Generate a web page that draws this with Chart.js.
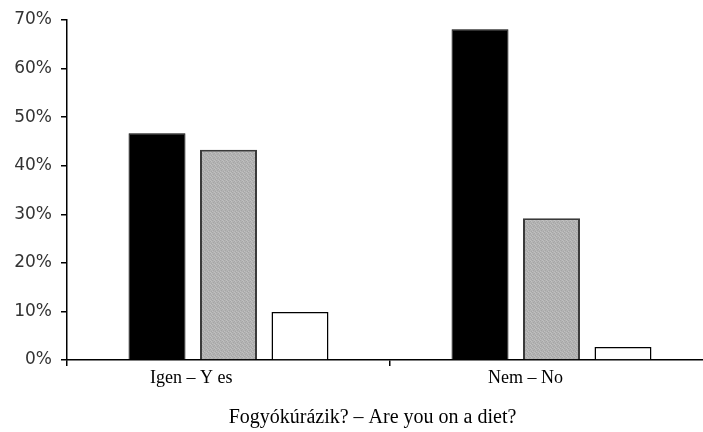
<!DOCTYPE html>
<html>
<head>
<meta charset="utf-8">
<script src="https://cdn.jsdelivr.net/npm/chart.js@4"></script>
<style>
  html, body { margin: 0; padding: 0; background: #fff; overflow: hidden; }
  #wrap { width: 716px; height: 432px; }
</style>
</head>
<body>
<div id="wrap"><canvas id="c" width="716" height="432"></canvas></div>
<script>
const categories = ["Igen – Y es     ", "Nem – No"];
const seriesBlack = [46.7, 68.1];
const seriesGray = [43.3, 29.2];
const seriesWhite = [9.9, 2.7];
const yTicks = [0, 10, 20, 30, 40, 50, 60, 70];
const axisTitle = "Fogyókúrázik? – Are you on a diet?       ";

function grayPattern() {
  const p = document.createElement('canvas');
  p.width = 4; p.height = 4;
  const g = p.getContext('2d');
  g.fillStyle = '#b3b3b3';
  g.fillRect(0, 0, 4, 4);
  g.fillStyle = '#a6a6a6';
  g.fillRect(0, 0, 1, 1); g.fillRect(2, 1, 1, 1); g.fillRect(1, 2, 1, 1); g.fillRect(3, 3, 1, 1);
  g.fillStyle = '#c0c0c0';
  g.fillRect(2, 0, 1, 1); g.fillRect(0, 3, 1, 1); g.fillRect(3, 1, 1, 1);
  return g.createPattern(p, 'repeat');
}

const ctx = document.getElementById('c').getContext('2d');
new Chart(ctx, {
  type: 'bar',
  data: {
    labels: categories,
    datasets: [
      { label: 'A', data: seriesBlack, backgroundColor: '#000', borderColor: '#000', borderWidth: 1 },
      { label: 'B', data: seriesGray, backgroundColor: grayPattern(), borderColor: '#3a3a3a', borderWidth: 2 },
      { label: 'C', data: seriesWhite, backgroundColor: '#fff', borderColor: '#000', borderWidth: 1.5 }
    ]
  },
  options: {
    responsive: false,
    animation: false,
    events: [],
    datasets: { bar: { categoryPercentage: 0.664, barPercentage: 0.797 } },
    layout: { padding: { top: 20, right: 3, left: 0, bottom: 0 } },
    plugins: { legend: { display: false }, tooltip: { enabled: false } },
    scales: {
      x: {
        offset: true,
        grid: { display: true, drawOnChartArea: false, offset: true, tickLength: 6, color: '#000', lineWidth: 1.5 },
        border: { display: true, color: '#000', width: 1.5 },
        ticks: { color: '#000', font: { family: 'Liberation Serif', size: 18 }, padding: 1, labelOffset: -26 },
        title: { display: true, text: axisTitle, color: '#000', font: { family: 'Liberation Serif', size: 20 }, padding: { top: 0, bottom: 2 } },
        afterFit: (s) => { s.height = 72; }
      },
      y: {
        min: 0, max: 70,
        grid: { display: true, drawOnChartArea: false, tickLength: 6, color: '#000', lineWidth: 1.5 },
        border: { display: true, color: '#000', width: 1.5 },
        afterBuildTicks: (s) => { s.ticks = yTicks.map(v => ({ value: v })); },
        ticks: { color: '#333', font: { family: 'DejaVu Sans', size: 17 }, padding: 9, callback: (v) => v + '%' },
        afterFit: (s) => { s.width = 67; }
      }
    }
  }
});
</script>
</body>
</html>
